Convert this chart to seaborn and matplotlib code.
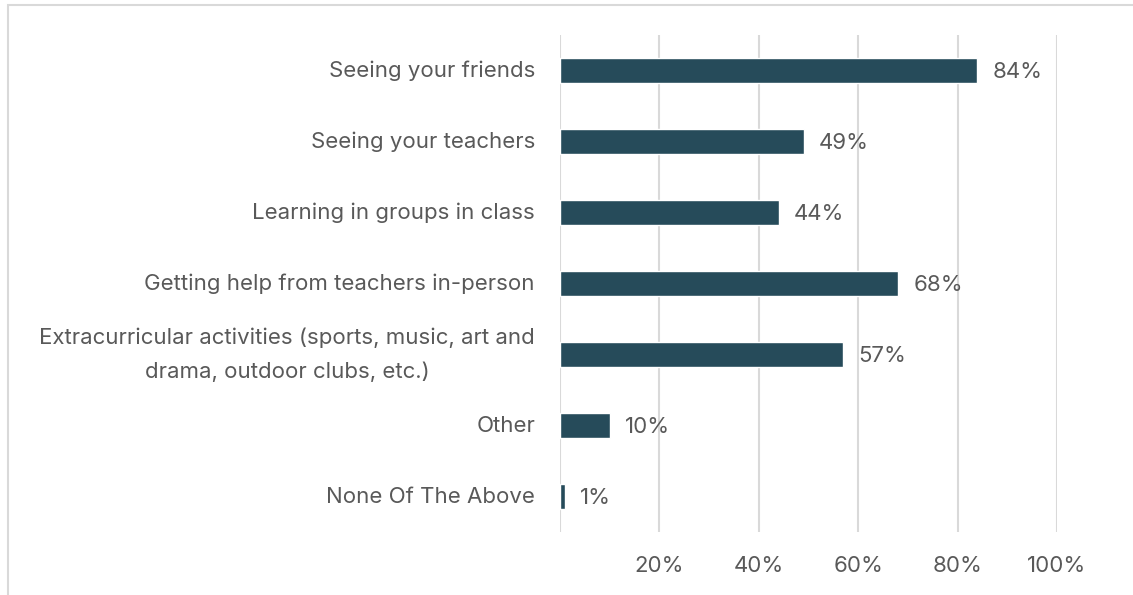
import matplotlib
matplotlib.use("Agg")
import matplotlib.pyplot as plt
import seaborn as sns
import pandas as pd
from matplotlib.patches import Rectangle

categories = [
    "Seeing your friends",
    "Seeing your teachers",
    "Learning in groups in class",
    "Getting help from teachers in-person",
    "Extracurricular activities (sports, music, art and\ndrama, outdoor clubs, etc.)",
    "Other",
    "None Of The Above",
]
values = [84, 49, 44, 68, 57, 10, 1]
tick_values = [20, 40, 60, 80, 100]
tick_labels = ["20%", "40%", "60%", "80%", "100%"]

df = pd.DataFrame({"category": categories, "value": values})

sns.set_theme(style="white")
plt.rcParams["font.family"] = ["Inter", "DejaVu Sans"]

bar_color = "#264b5a"
text_color = "#595959"
grid_color = "#d9d9d9"
fs = 16

fig = plt.figure(figsize=(11.33, 5.95), dpi=100)
ax = fig.add_axes([560 / 1133, 1 - 532 / 595, 497 / 1133, 497 / 595])

sns.barplot(data=df, x="value", y="category", orient="h", color=bar_color,
            width=0.34, saturation=1, ax=ax, zorder=3)

ax.set_xlim(0, 100)
ax.set_ylim(len(categories) - 0.5, -0.5)
ax.set_xticks(tick_values)
ax.set_xticklabels(tick_labels)
ax.set_xlabel("")
ax.set_ylabel("")

for x in [0] + tick_values:
    ax.axvline(x, color=grid_color, linewidth=1.5, zorder=1)

for s in ax.spines.values():
    s.set_visible(False)

ax.tick_params(axis="x", length=0, pad=17, labelsize=fs, labelcolor=text_color)
ax.tick_params(axis="y", length=0, pad=18, labelsize=fs, labelcolor=text_color)
for lbl in ax.get_yticklabels():
    lbl.set_horizontalalignment("right")
    lbl.set_verticalalignment("center")
    lbl.set_multialignment("center")
    lbl.set_linespacing(1.8)

for i, v in enumerate(values):
    ax.annotate(f"{v}%", xy=(v, i), xytext=(11, -1), textcoords="offset points",
                va="center", ha="left", fontsize=fs, color=text_color)

# light frame around the chart area
fig.patches.append(Rectangle((8 / 1133, -0.1), 1.2, (1 - 5 / 595) + 0.1,
                             transform=fig.transFigure, fill=False,
                             edgecolor="#d9d9d9", linewidth=1.5))

fig.savefig("out.png", dpi=100)
